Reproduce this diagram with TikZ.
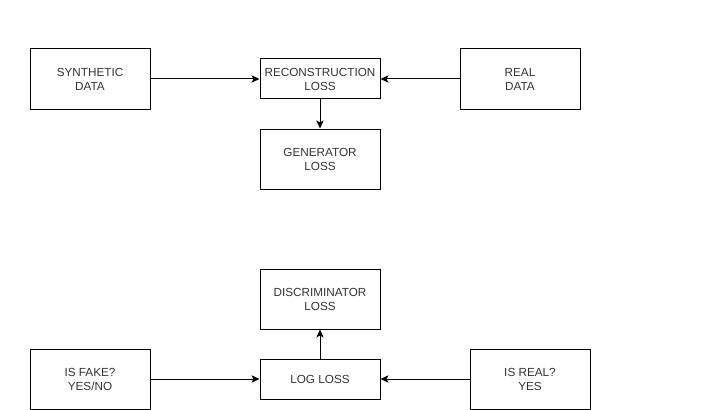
\documentclass[tikz,border=0pt]{standalone}
\usepackage{fontspec}
\setmainfont{Liberation Sans}
\usetikzlibrary{arrows.meta}

\tikzset{
    block/.style = {draw, line width = 0.75pt, align = center, inner sep = 0pt,
        minimum width = 90pt, minimum height = 45pt,
        font = \fontsize{8.8}{10.5}\selectfont, text = black!80},
    flat/.style = {block, minimum height = 30pt},
    link/.style = {line width = 0.75pt, -{Stealth[length = 6pt, width = 5.5pt, inset = 1.5pt]}}
}

\begin{document}
\begin{tikzpicture}[x = 0.75pt, y = -0.75pt]
    \useasboundingbox (0, 0) rectangle (721, 410);

    % generator part
    \node[block] (synth) at (90, 79){SYNTHETIC\\DATA};
    \node[flat] (recon) at (320, 79){RECONSTRUCTION\\LOSS};
    \node[block] (real) at (520, 79){REAL\\DATA};
    \node[block] (gen) at (320, 159){GENERATOR\\LOSS};

    \draw[link] (synth) -- (recon);
    \draw[link] (real) -- (recon);
    \draw[link] (recon) -- (gen);

    % discriminator part
    \node[block] (disc) at (320, 299){DISCRIMINATOR\\LOSS};
    \node[flat] (logloss) at (320, 379){LOG LOSS};
    \node[block] (fake) at (90, 379){IS FAKE?\\YES/NO};
    \node[block] (isreal) at (530, 379){IS REAL?\\YES};

    \draw[link] (fake) -- (logloss);
    \draw[link] (isreal) -- (logloss);
    \draw[link] (logloss) -- (disc);
\end{tikzpicture}
\end{document}
